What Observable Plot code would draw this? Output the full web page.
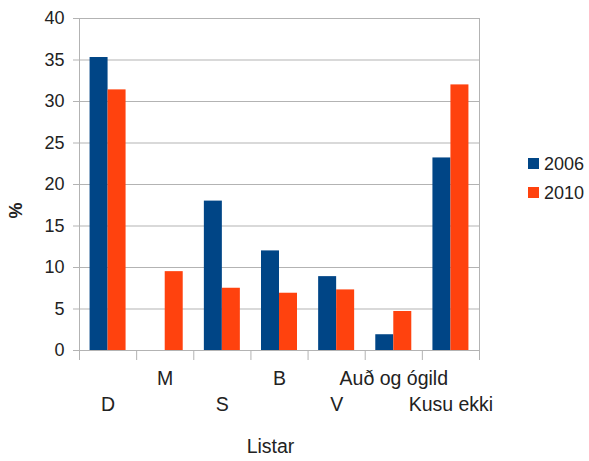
<!DOCTYPE html>
<html><head><meta charset="utf-8">
<script src="https://cdn.jsdelivr.net/npm/d3@7"></script>
<script src="https://cdn.jsdelivr.net/npm/@observablehq/plot@0.6"></script>
<style>
body{margin:0;background:#fff;font-family:"Liberation Sans",Arial,sans-serif;}
#wrap{position:relative;width:589px;height:461px;}
#legend{position:absolute;left:528px;top:149px;font-size:18px;color:#222;line-height:1;}
#legend .item{display:flex;align-items:center;height:29px;}
#legend .sw{width:11px;height:11px;margin-right:5px;}
#wrap svg g[aria-label^="y-axis"] line,#wrap svg g[aria-label^="y-axis"] path,
#wrap svg g[aria-label^="x-axis"] line,#wrap svg g[aria-label^="x-axis"] path{stroke:#b3b3b3;}
</style></head><body><div id="wrap"></div>
<script>
const categories = ["D", "M", "S", "B", "V", "Auð og ógild", "Kusu ekki"];
const years = ["2006", "2010"];
const values2006 = [35.3, 0, 18.0, 12.0, 8.9, 1.9, 23.2];
const values2010 = [31.4, 9.5, 7.5, 6.9, 7.3, 4.7, 32.0];
const yTicks = [0, 5, 10, 15, 20, 25, 30, 35, 40];
const colors = ["#004586", "#ff420e"];
const yLabel = "%";
const xLabel = "Listar";

const rows = categories.flatMap((c, i) => [
  {cat: c, i, year: years[0], value: values2006[i]},
  {cat: c, i, year: years[1], value: values2010[i]}
]);
const pad = 0.185;
const n = categories.length;

const chart = Plot.plot({
  width: 589, height: 461,
  marginLeft: 79, marginRight: 110, marginTop: 18, marginBottom: 111,
  style: {fontFamily: "Liberation Sans, Arial, sans-serif", fontSize: "18px", color: "#222", background: "#fff", overflow: "visible"},
  x: {domain: [0, n], ticks: d3.range(n + 1), tickFormat: () => "", tickSize: 10, label: null},
  y: {domain: [0, 40], ticks: yTicks, tickSize: 6, tickPadding: 9, label: null},
  color: {domain: years, range: colors},
  marks: [
    Plot.ruleY(yTicks, {stroke: "#b3b3b3"}),
    Plot.ruleX([0, n], {stroke: "#b3b3b3"}),
    Plot.rectY(rows.filter(d => d.year === years[0]), {x1: d => d.i + pad, x2: d => d.i + 0.5, y1: 0, y2: "value", fill: "year"}),
    Plot.rectY(rows.filter(d => d.year === years[1]), {x1: d => d.i + 0.5, x2: d => d.i + 1 - pad, y1: 0, y2: "value", fill: "year"}),
    Plot.text(categories.filter((d, i) => i % 2 === 1), {x: d => categories.indexOf(d) + 0.5, frameAnchor: "bottom", dy: 34, fontSize: 19.5, text: d => d}),
    Plot.text(categories.filter((d, i) => i % 2 === 0), {x: d => categories.indexOf(d) + 0.5, frameAnchor: "bottom", dy: 60, fontSize: 19.5, text: d => d}),
    Plot.text([yLabel], {frameAnchor: "left", dx: -63, dy: 34, rotate: -90, fontWeight: "bold", text: d => d}),
    Plot.text([xLabel], {frameAnchor: "bottom", dx: -9, dy: 102, fontSize: 19.5, text: d => d})
  ]
});
const wrap = document.getElementById("wrap");
wrap.appendChild(chart);
const legend = d3.select(wrap).append("div").attr("id", "legend");
years.forEach((y, k) => {
  const it = legend.append("div").attr("class", "item");
  it.append("div").attr("class", "sw").style("background", colors[k]);
  it.append("span").text(y);
});
</script></body></html>
